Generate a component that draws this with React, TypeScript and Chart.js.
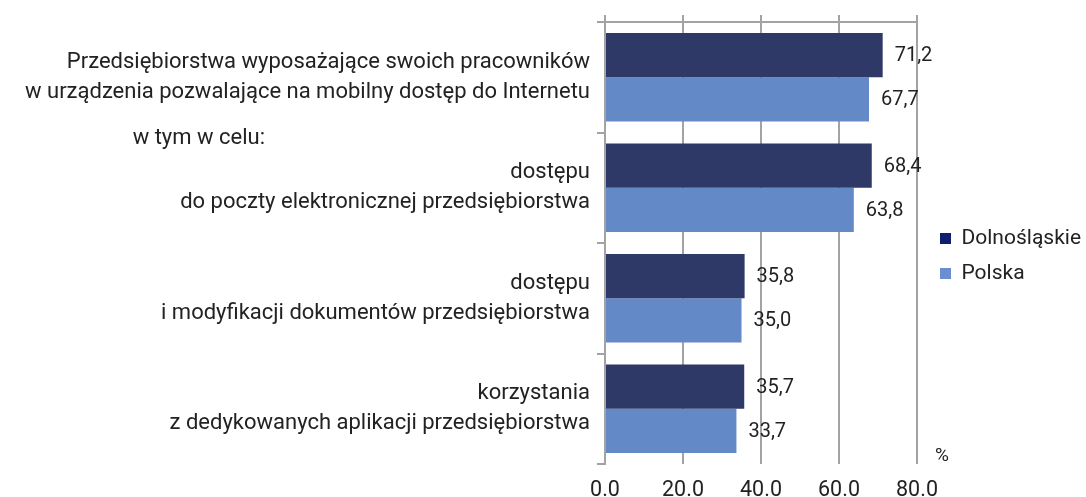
import React, { useEffect, useRef } from "react";
import { Chart, registerables } from "chart.js";

Chart.register(...registerables);

const categories: string[][] = [
  ["Przedsiębiorstwa wyposażające swoich pracowników", "w urządzenia pozwalające na mobilny dostęp do Internetu"],
  ["dostępu", "do poczty elektronicznej przedsiębiorstwa"],
  ["dostępu", "i modyfikacji dokumentów przedsiębiorstwa"],
  ["korzystania", "z dedykowanych aplikacji przedsiębiorstwa"],
];
const seriesNames = ["Dolnośląskie", "Polska"];
const dolnoslaskie = [71.2, 68.4, 35.8, 35.7];
const polska = [67.7, 63.8, 35.0, 33.7];
const xMin = 0;
const xMax = 80;
const xStep = 20;
const subheading = "w tym w celu:";
const unitLabel = "%";

const FONT = "Roboto, 'Noto Sans', sans-serif";
const TEXT = "#222222";
const GRID = "#a3a3a3";
const barColors = ["#2f3968", "#6489c7"];
const legendColors = ["#0f1f6e", "#6a8fd0"];

const valueLabels = {
  id: "valueLabels",
  afterDatasetsDraw(chart: any) {
    const ctx = chart.ctx;
    ctx.save();
    ctx.font = `20px ${FONT}`;
    ctx.fillStyle = TEXT;
    ctx.textAlign = "left";
    ctx.textBaseline = "middle";
    chart.data.datasets.forEach((ds: any, di: number) => {
      const meta = chart.getDatasetMeta(di);
      meta.data.forEach((bar: any, i: number) => {
        const v = ds.data[i] as number;
        ctx.fillText(v.toFixed(1).replace(".", ","), bar.x + 12, bar.y + 1);
      });
    });
    ctx.restore();
  },
};

const extraText = {
  id: "extraText",
  afterDraw(chart: any) {
    const ctx = chart.ctx;
    const area = chart.chartArea;
    const y = chart.scales.y;
    ctx.save();
    ctx.fillStyle = TEXT;
    ctx.font = `22px ${FONT}`;
    ctx.textBaseline = "middle";
    ctx.textAlign = "right";
    const boundary = (y.getPixelForTick(0) + y.getPixelForTick(1)) / 2;
    ctx.fillText(subheading, area.left - 340, boundary + 6);
    ctx.textAlign = "center";
    ctx.font = `19px ${FONT}`;
    ctx.fillText(unitLabel, area.right + 25, area.bottom - 8);
    ctx.restore();
  },
};

export default function App() {
  const ref = useRef<HTMLCanvasElement | null>(null);
  useEffect(() => {
    document.body.style.margin = "0";
    const canvas = ref.current!;
    const chart = new Chart(canvas, {
      type: "bar",
      data: {
        labels: categories,
        datasets: [
          { label: seriesNames[0], data: dolnoslaskie, backgroundColor: barColors[0], categoryPercentage: 0.8, barPercentage: 1.0, xAxisID: "x", yAxisID: "y" },
          { label: seriesNames[1], data: polska, backgroundColor: barColors[1], categoryPercentage: 0.8, barPercentage: 1.0, xAxisID: "x", yAxisID: "y" },
        ],
      },
      options: {
        indexAxis: "y",
        animation: false,
        responsive: false,
        maintainAspectRatio: false,
        layout: { padding: { top: 15, bottom: 0, left: 0, right: 0 } },
        scales: {
          x: {
            type: "linear",
            position: "bottom",
            min: xMin,
            max: xMax,
            ticks: {
              stepSize: xStep,
              color: TEXT,
              font: { family: FONT, size: 21.5 },
              padding: 14,
              callback: (v: any) => Number(v).toFixed(1),
            },
            grid: { color: GRID, lineWidth: 2, drawTicks: false },
            border: { display: false },
            afterFit: (s: any) => { s.height = 33; s.paddingLeft = 0; s.paddingRight = 0; },
          },
          x2: {
            type: "linear",
            position: "top",
            min: xMin,
            max: xMax,
            ticks: { stepSize: xStep, display: false },
            grid: { color: GRID, lineWidth: 2, drawOnChartArea: false, drawTicks: true, tickLength: 7 },
            border: { display: true, color: GRID, width: 2 },
            afterFit: (s: any) => { s.height = 7; s.paddingLeft = 0; s.paddingRight = 0; },
          },
          gap: {
            type: "linear",
            position: "right",
            ticks: { display: false },
            grid: { display: false },
            border: { display: false },
            afterFit: (s: any) => { s.width = 9; s.paddingTop = 0; s.paddingBottom = 0; },
          },
          y: {
            type: "category",
            position: "left",
            offset: true,
            ticks: {
              color: TEXT,
              font: { family: FONT, size: 22, lineHeight: 1.36 },
              padding: 7,
            },
            grid: { offset: true, color: GRID, lineWidth: 2, drawOnChartArea: false, drawTicks: true, tickLength: 8 },
            border: { display: true, color: GRID, width: 2 },
            afterFit: (s: any) => { s.width = 605; s.paddingTop = 0; s.paddingBottom = 0; },
          },
        },
        plugins: {
          legend: {
            position: "right",
            align: "center",
            maxWidth: 160,
            labels: {
              boxWidth: 11,
              boxHeight: 11,
              padding: 14,
              color: TEXT,
              font: { family: FONT, size: 21 },
              generateLabels: () =>
                seriesNames.map((n, i) => ({
                  text: n,
                  fillStyle: legendColors[i],
                  strokeStyle: legendColors[i],
                  lineWidth: 0,
                  hidden: false,
                  datasetIndex: i,
                  fontColor: TEXT,
                })),
            },
          },
          tooltip: { enabled: false },
        },
      },
      plugins: [valueLabels, extraText],
    } as any);
    return () => chart.destroy();
  }, []);
  return (
    <div style={{ position: "fixed", left: 0, top: 0, width: 1086, height: 497 }}>
      <canvas ref={ref} width={1086} height={497} style={{ display: "block" }} />
    </div>
  );
}
